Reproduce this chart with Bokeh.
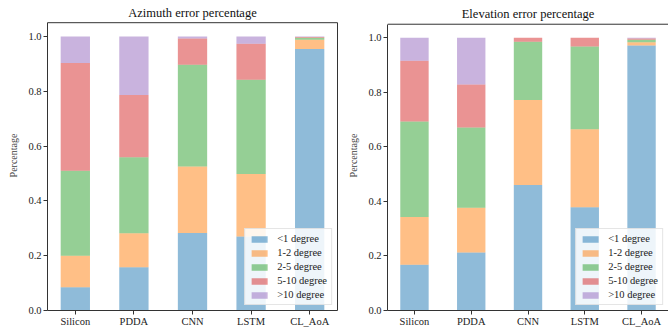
import numpy as np
from bokeh.plotting import figure
from bokeh.models import (Range1d, FixedTicker, PrintfTickFormatter, ColumnDataSource,
                          LinearAxis, Label, Span)
from bokeh.layouts import row
from bokeh.embed import file_html
from bokeh.resources import INLINE

categories = ["Silicon", "PDDA", "CNN", "LSTM", "CL_AoA"]
error_bins = ["<1 degree", "1-2 degree", "2-5 degree", "5-10 degree", ">10 degree"]
y_ticks = [0.0, 0.2, 0.4, 0.6, 0.8, 1.0]

# Azimuth error shares per method (Silicon, PDDA, CNN, LSTM, CL_AoA)
az_lt1 = [0.085, 0.158, 0.283, 0.270, 0.954]
az_1_2 = [0.115, 0.124, 0.242, 0.228, 0.034]
az_2_5 = [0.310, 0.277, 0.372, 0.344, 0.007]
az_5_10 = [0.393, 0.227, 0.095, 0.131, 0.003]
az_gt10 = [0.097, 0.214, 0.008, 0.027, 0.002]

# Elevation error shares per method
el_lt1 = [0.168, 0.213, 0.460, 0.379, 0.972]
el_1_2 = [0.175, 0.164, 0.312, 0.286, 0.012]
el_2_5 = [0.350, 0.294, 0.214, 0.303, 0.009]
el_5_10 = [0.223, 0.158, 0.014, 0.032, 0.005]
el_gt10 = [0.084, 0.171, 0.000, 0.000, 0.002]

colors = ["#1f77b4", "#ff7f0e", "#2ca02c", "#d62728", "#9467bd"]
FONT = "Liberation Serif"
AX = "#333333"
Y_TOP = 1.05


def make_panel(title, series, width, height, border_left, border_right,
               y_end, title_offset, right_frame=True):
    keys = ["s0", "s1", "s2", "s3", "s4"]
    data = {"x": list(range(len(categories)))}
    for k, s in zip(keys, series):
        data[k] = s
    src = ColumnDataSource(data)
    n = len(categories)
    p = figure(width=width, height=height, output_backend="svg", toolbar_location=None,
               x_range=Range1d(-0.475, (n - 1) + 0.475), y_range=Range1d(0, y_end),
               min_border_left=border_left, min_border_right=border_right,
               min_border_top=0, min_border_bottom=0)
    p.vbar_stack(keys, x="x", width=0.5, source=src, fill_color=colors, fill_alpha=0.5,
                 line_color=None, legend_label=error_bins)
    p.add_layout(Label(x=(n - 1) / 2, y=Y_TOP, y_offset=title_offset, text=title,
                       text_align="center", text_baseline="middle", text_font=FONT,
                       text_font_size="12.5px", text_font_style="normal",
                       text_color="#111111"))
    p.add_layout(Span(location=Y_TOP, dimension="width", line_color=AX, line_width=1))
    p.xgrid.visible = False
    p.ygrid.visible = False
    p.outline_line_color = None
    p.background_fill_color = "white"
    p.border_fill_color = "white"
    xa = p.below[0]
    ya = p.left[0]
    ya.bounds = (0, Y_TOP)
    if right_frame:
        ra = LinearAxis(axis_line_color=AX, major_tick_line_color=None,
                        minor_tick_line_color=None, major_label_text_font_size="0px",
                        major_label_standoff=0, major_label_text_color=None,
                        bounds=(0, Y_TOP))
        p.add_layout(ra, "right")

    xa.ticker = FixedTicker(ticks=list(range(n)))
    xa.major_label_overrides = {i: c for i, c in enumerate(categories)}
    ya.ticker = FixedTicker(ticks=y_ticks)
    ya.formatter = PrintfTickFormatter(format="%.1f")
    ya.axis_label = "Percentage"
    ya.axis_label_text_font = FONT
    ya.axis_label_text_font_size = "10px"
    ya.axis_label_text_font_style = "normal"
    ya.axis_label_standoff = 6
    for a in (xa, ya):
        a.axis_line_color = AX
        a.major_tick_line_color = AX
        a.major_tick_in = 0
        a.major_tick_out = 4
        a.minor_tick_line_color = None
        a.major_label_text_font = FONT
        a.major_label_text_font_size = "10.5px"
        a.major_label_text_font_style = "normal"
        a.major_label_text_color = "#222222"
    xa.major_label_standoff = 1
    ya.major_label_standoff = 2

    lg = p.legend[0]
    lg.location = "bottom_right"
    lg.label_text_font = FONT
    lg.label_text_font_style = "normal"
    lg.label_text_font_size = "10.5px"
    lg.label_text_color = "#222222"
    lg.glyph_width = 20
    lg.glyph_height = 8
    lg.label_height = 11
    lg.label_standoff = 8
    lg.spacing = 3
    lg.padding = 4
    lg.margin = 5
    lg.border_line_color = "#cccccc"
    lg.background_fill_alpha = 0.85
    return p


p1 = make_panel("Azimuth error percentage", [az_lt1, az_1_2, az_2_5, az_5_10, az_gt10],
                345, 329, 47, 8, 1.131, 10, True)
p2 = make_panel("Elevation error percentage", [el_lt1, el_1_2, el_2_5, el_5_10, el_gt10],
                323, 329, 40, 0, 1.137, 10, False)

layout = row(p1, p2)
open("out.html", "w").write(file_html(layout, INLINE))
